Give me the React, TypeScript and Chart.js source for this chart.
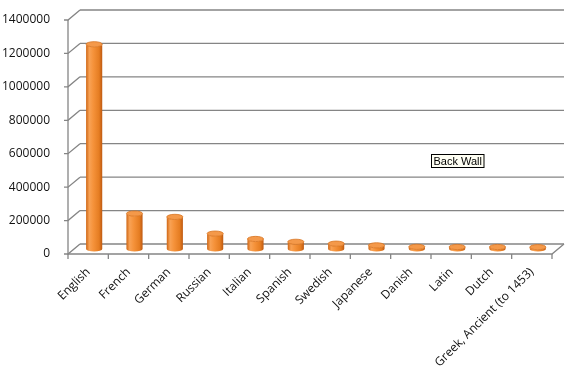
import React, { useEffect, useRef } from "react";
import { Chart, registerables } from "chart.js";

Chart.register(...registerables);

const categories = [
  "English",
  "French",
  "German",
  "Russian",
  "Italian",
  "Spanish",
  "Swedish",
  "Japanese",
  "Danish",
  "Latin",
  "Dutch",
  "Greek, Ancient (to 1453)",
];
const values = [1225000, 212000, 192000, 92000, 60000, 43000, 32000, 22000, 13000, 12000, 12000, 11000];
const yTicks = [0, 200000, 400000, 600000, 800000, 1000000, 1200000, 1400000];
const wallLabel = "Back Wall";

const DX = 12;
const DY = -10;

const threeD = {
  id: "threeD",
  beforeDatasetsDraw(chart: any) {
    const ctx = chart.ctx;
    const { left, right, top, bottom } = chart.chartArea;
    const ys = chart.scales.y;
    ctx.save();
    ctx.strokeStyle = "#858585";
    ctx.lineWidth = 1.3;
    yTicks.forEach((v) => {
      const y = ys.getPixelForValue(v);
      ctx.beginPath();
      ctx.moveTo(left + DX, y + DY);
      ctx.lineTo(right + DX, y + DY);
      ctx.stroke();
      ctx.beginPath();
      ctx.moveTo(left - 4, y);
      ctx.lineTo(left, y);
      ctx.lineTo(left + DX, y + DY);
      ctx.stroke();
    });
    ctx.beginPath();
    ctx.moveTo(left, top);
    ctx.lineTo(left, bottom);
    ctx.lineTo(right, bottom);
    ctx.lineTo(right + DX, bottom + DY);
    ctx.stroke();
    const n = categories.length;
    const w = (right - left) / n;
    for (let i = 0; i <= n; i++) {
      const x = left + i * w;
      ctx.beginPath();
      ctx.moveTo(x, bottom);
      ctx.lineTo(x, bottom + 5);
      ctx.stroke();
    }
    ctx.restore();
  },
  beforeDatasetDraw() {
    return false;
  },
  afterDatasetsDraw(chart: any) {
    const ctx = chart.ctx;
    const meta = chart.getDatasetMeta(0);
    ctx.save();
    meta.data.forEach((el: any) => {
      const rx = el.width / 2;
      const ry = 2.6;
      const cx = el.x + DX / 2;
      const topY = el.y + DY / 2;
      const baseY = el.base + DY / 2;
      const g = ctx.createLinearGradient(cx - rx, 0, cx + rx, 0);
      g.addColorStop(0, "#cf6614");
      g.addColorStop(0.2, "#f8a255");
      g.addColorStop(0.45, "#f5923a");
      g.addColorStop(0.8, "#e57d22");
      g.addColorStop(1, "#bf5a12");
      ctx.beginPath();
      ctx.moveTo(cx - rx, topY);
      ctx.lineTo(cx - rx, baseY);
      ctx.ellipse(cx, baseY, rx, ry, 0, Math.PI, 0, true);
      ctx.lineTo(cx + rx, topY);
      ctx.ellipse(cx, topY, rx, ry, 0, 0, Math.PI, false);
      ctx.closePath();
      ctx.fillStyle = g;
      ctx.fill();
      ctx.beginPath();
      ctx.ellipse(cx, topY, rx, ry, 0, 0, Math.PI * 2);
      ctx.fillStyle = "#f4994a";
      ctx.fill();
      ctx.strokeStyle = "#d8731f";
      ctx.lineWidth = 0.8;
      ctx.stroke();
    });
    ctx.restore();
  },
  afterDraw(chart: any) {
    const ctx = chart.ctx;
    const { left, top } = chart.chartArea;
    const bx = left + 363;
    const by = top + 134;
    ctx.save();
    ctx.font = "11px 'Liberation Sans', sans-serif";
    const tw = ctx.measureText(wallLabel).width;
    ctx.fillStyle = "#fffff4";
    ctx.fillRect(bx, by, tw + 5, 14);
    ctx.strokeStyle = "#000";
    ctx.lineWidth = 1;
    ctx.strokeRect(bx + 0.5, by + 0.5, tw + 4, 13);
    ctx.fillStyle = "#000";
    ctx.textBaseline = "middle";
    ctx.fillText(wallLabel, bx + 2.5, by + 7.5);
    ctx.restore();
  },
};

export default function App() {
  const ref = useRef<HTMLCanvasElement | null>(null);
  useEffect(() => {
    document.body.style.margin = "0";
    const chart = new Chart(ref.current!, {
      type: "bar",
      data: {
        labels: categories,
        datasets: [
          {
            data: values,
            backgroundColor: "#f59331",
            barPercentage: 0.4,
            categoryPercentage: 1,
          },
        ],
      },
      options: {
        animation: false,
        responsive: false,
        layout: { padding: { top: 20, right: 28, left: 0, bottom: 0 } },
        plugins: { legend: { display: false }, tooltip: { enabled: false } },
        scales: {
          y: {
            min: 0,
            max: 1400000,
            afterFit: (s: any) => {
              s.width = 68;
            },
            afterBuildTicks: (s: any) => {
              s.ticks = yTicks.map((v) => ({ value: v }));
            },
            ticks: {
              padding: 10,
              color: "#111",
              font: { family: "'Open Sans', sans-serif", size: 12 },
              callback: (v: any) => String(v),
            },
            grid: { display: false },
            border: { display: false },
          },
          x: {
            afterFit: (s: any) => {
              s.height = 120;
            },
            ticks: {
              minRotation: 45,
              maxRotation: 45,
              padding: 3,
              color: "#111",
              font: { family: "'Open Sans', sans-serif", size: 12 },
            },
            grid: { display: false },
            border: { display: false },
          },
        },
      },
      plugins: [threeD],
    });
    return () => chart.destroy();
  }, []);
  return <canvas ref={ref} width={580} height={374} style={{ display: "block" }} />;
}
